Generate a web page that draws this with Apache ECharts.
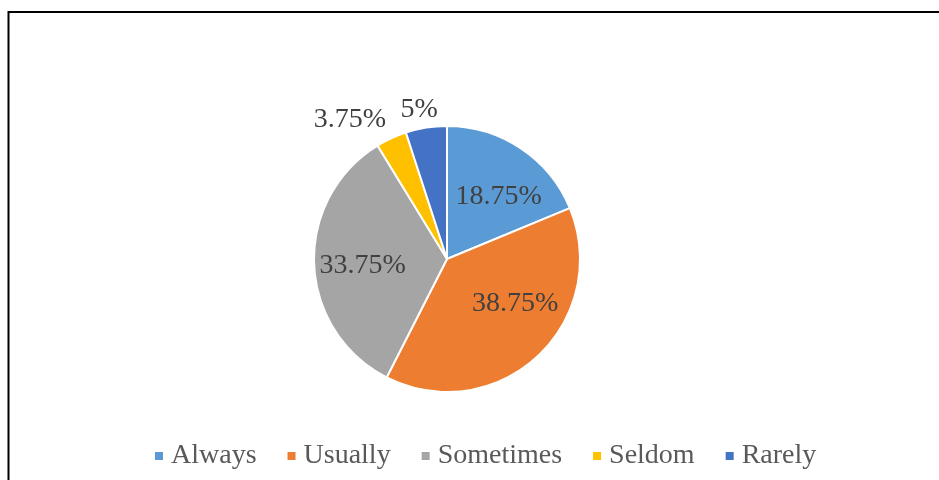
<!DOCTYPE html>
<html><head><meta charset="utf-8">
<script src="https://cdn.jsdelivr.net/npm/echarts@6/dist/echarts.min.js"></script>
<style>html,body{margin:0;padding:0;background:#fff}#c{width:939px;height:480px}</style>
</head><body><div id="c"></div>
<script>
const categories = ['Always', 'Usually', 'Sometimes', 'Seldom', 'Rarely'];
const values = [18.75, 38.75, 33.75, 3.75, 5];
const labels = ['18.75%', '38.75%', '33.75%', '3.75%', '5%'];
const colors = ['#5B9BD5', '#ED7D31', '#A5A5A5', '#FFC000', '#4472C4'];
const labelShift = [[13, -5], [21, -6], [-15, 4], [-68, -76], [-17, -81]];

const chart = echarts.init(document.getElementById('c'));
chart.setOption({
  animation: false,
  color: colors,
  graphic: [{
    type: 'rect', shape: {x: 8.5, y: 12, width: 1000, height: 600},
    style: {fill: 'none', stroke: '#000', lineWidth: 2}, silent: true
  }],
  legend: {
    left: 148, top: 437, icon: 'rect', itemWidth: 10, itemHeight: 10, itemGap: 29,
    textStyle: {fontFamily: 'Liberation Serif', fontSize: 28, color: '#595959', padding: [0, 0, 0, 2]},
    data: categories
  },
  series: [{
    type: 'pie', center: [447, 259], radius: 133, startAngle: 90, clockwise: true,
    itemStyle: {borderColor: '#fff', borderWidth: 2},
    label: {position: 'inside', fontFamily: 'Liberation Serif', fontSize: 28, color: '#404040',
      formatter: p => labels[p.dataIndex]},
    labelLine: {show: false},
    labelLayout: p => ({dx: labelShift[p.dataIndex][0], dy: labelShift[p.dataIndex][1]}),
    data: categories.map((c, i) => ({name: c, value: values[i]}))
  }]
});
</script></body></html>
